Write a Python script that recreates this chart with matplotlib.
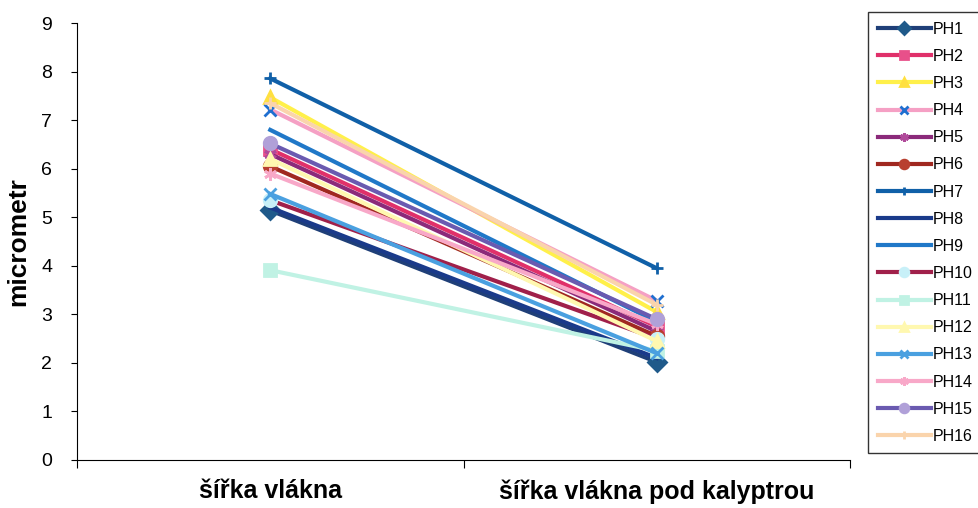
import numpy as np
import matplotlib.pyplot as plt

plt.rcParams['font.family'] = ['Liberation Sans', 'DejaVu Sans']

categories = ['šířka vlákna', 'šířka vlákna pod kalyptrou']
series = ['PH%d' % i for i in range(1, 17)]
left_vals = [5.14, 6.40, 7.47, 7.22, 6.30, 6.05, 7.86, 5.20, 6.80, 5.35, 3.91, 6.20, 5.48, 5.90, 6.52, 7.35]
right_vals = [2.02, 2.75, 3.05, 3.28, 2.65, 2.55, 3.95, 2.10, 2.85, 2.50, 2.25, 2.45, 2.20, 2.80, 2.90, 3.20]

# line colour, marker, marker face colour
styles = [
    ('#1f3f78', 'D', '#1f5a8a'),
    ('#e0306a', 's', '#e8508a'),
    ('#fff04a', '^', '#ffe040'),
    ('#f5a0c4', 'x', '#1f6fd0'),
    ('#8b2a7a', (6, 2, 0), '#b04a9a'),
    ('#a02820', 'o', '#b84030'),
    ('#1060a8', '+', '#1060a8'),
    ('#1a3a8a', None, None),
    ('#2078c8', None, None),
    ('#a0204a', 'o', '#c8f0f8'),
    ('#c0f2e4', 's', '#c0f2e4'),
    ('#fff8b0', '^', '#fff8b0'),
    ('#4aa0e0', 'x', '#4aa0e0'),
    ('#f8a8c8', (6, 2, 0), '#f8a8c8'),
    ('#6a5ab0', 'o', '#b0a0d8'),
    ('#fad4ac', '+', '#fad4ac'),
]

fig = plt.figure(figsize=(9.79, 5.08), dpi=100)
ax = fig.add_axes([0.0787, 0.0945, 0.7895, 0.860])

x = [0.5, 1.5]
for name, a, b, (lc, mk, mfc) in zip(series, left_vals, right_vals, styles):
    ax.plot(x, [a, b], color=lc, lw=3.0, marker=mk, markersize=9,
            markerfacecolor=mfc, markeredgecolor=mfc if mk else None,
            markeredgewidth=2.0, label=name)

ax.set_xlim(0, 2)
ax.set_ylim(0, 9)
ax.set_yticks(range(10))
ax.tick_params(axis='y', labelsize=14, length=4, direction='out', pad=14)
ax.set_xticks([0, 1, 2])
ax.set_xticklabels([])
ax.set_xticks(x, minor=True)
ax.set_xticklabels(categories, minor=True, fontsize=18, fontweight='bold')
ax.tick_params(axis='x', which='major', length=6)
ax.tick_params(axis='x', which='minor', length=0, pad=14)
ax.set_ylabel('micrometr', fontsize=19, fontweight='bold', labelpad=8)
ax.spines['top'].set_visible(False)
ax.spines['right'].set_visible(False)

leg = ax.legend(loc='upper left', bbox_to_anchor=(0.887, 0.976),
                bbox_transform=fig.transFigure, frameon=True, fancybox=False,
                edgecolor='black', fontsize=11.5, handlelength=3.3,
                labelspacing=0.76, borderpad=0.6, handletextpad=0.1,
                borderaxespad=0, markerscale=0.7)
leg.get_frame().set_linewidth(1.0)

plt.savefig('out.png', dpi=100)
